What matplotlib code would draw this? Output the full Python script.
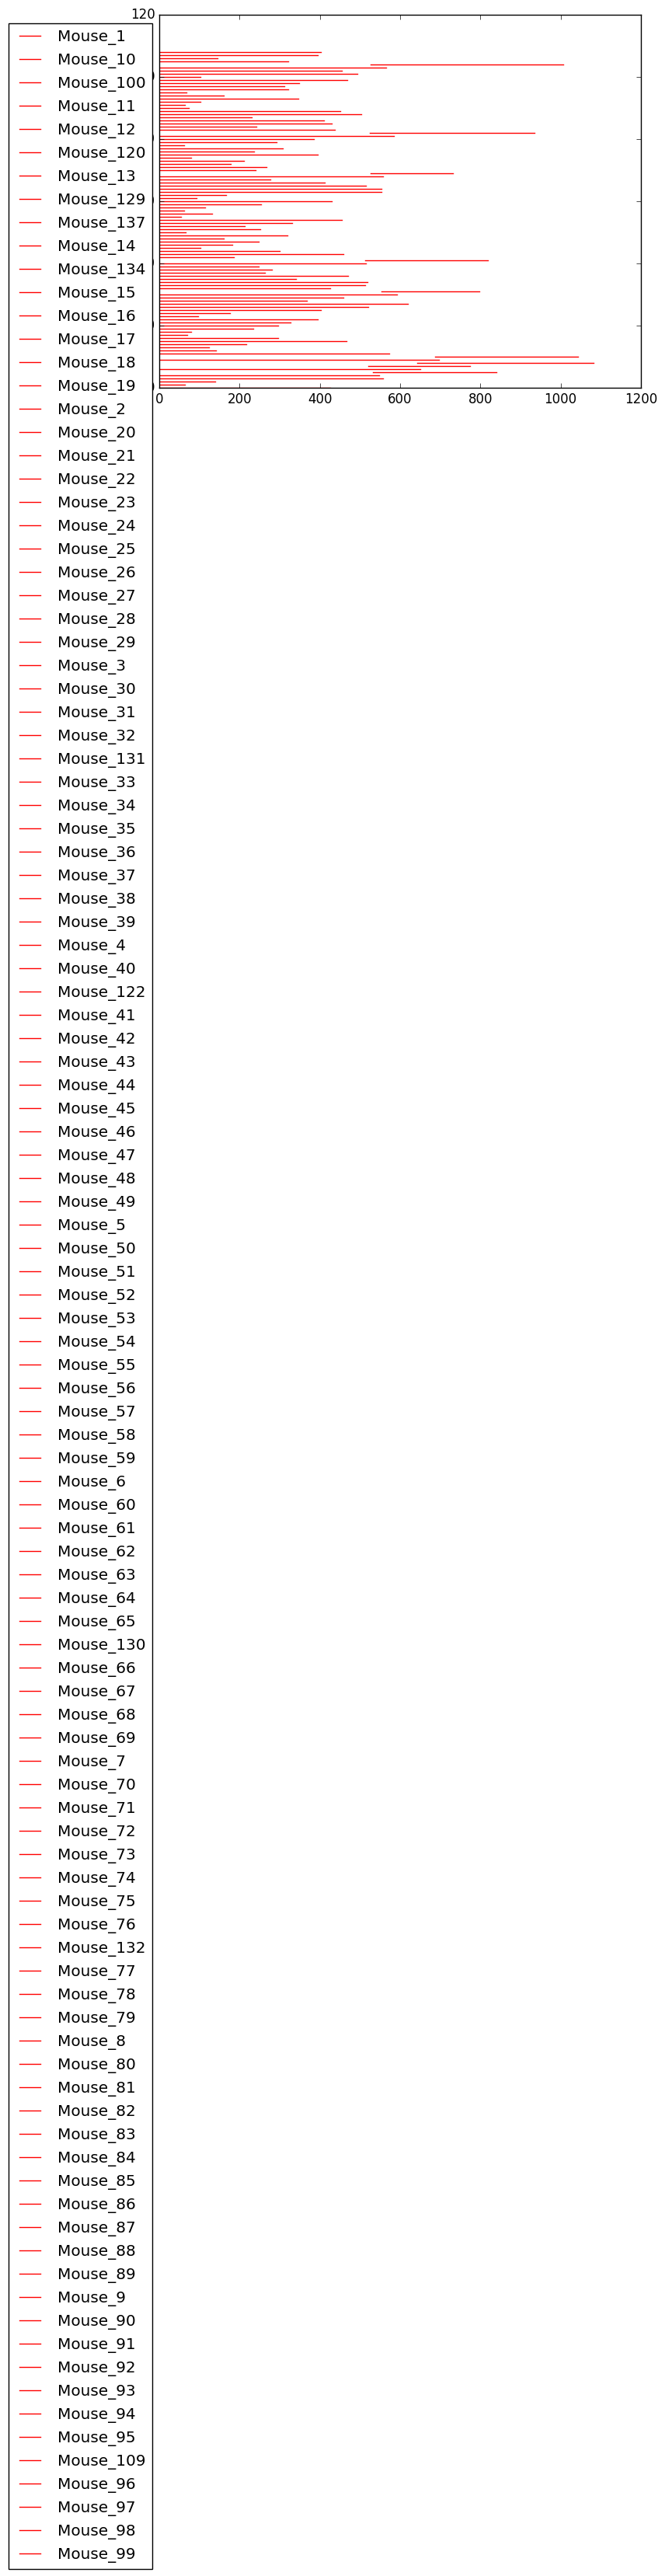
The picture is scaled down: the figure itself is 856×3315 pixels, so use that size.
import matplotlib
matplotlib.use('Agg')
import matplotlib.pyplot as plt

# mouse names, in the order they were plotted (y = 0, 1, 2, ...)
mouseNames = ['Mouse_1', 'Mouse_10', 'Mouse_100', 'Mouse_11', 'Mouse_12', 'Mouse_120', 'Mouse_13',
              'Mouse_129', 'Mouse_137', 'Mouse_14', 'Mouse_134', 'Mouse_15', 'Mouse_16', 'Mouse_17',
              'Mouse_18', 'Mouse_19', 'Mouse_2', 'Mouse_20', 'Mouse_21', 'Mouse_22', 'Mouse_23',
              'Mouse_24', 'Mouse_25', 'Mouse_26', 'Mouse_27', 'Mouse_28', 'Mouse_29', 'Mouse_3',
              'Mouse_30', 'Mouse_31', 'Mouse_32', 'Mouse_131', 'Mouse_33', 'Mouse_34', 'Mouse_35',
              'Mouse_36', 'Mouse_37', 'Mouse_38', 'Mouse_39', 'Mouse_4', 'Mouse_40', 'Mouse_122',
              'Mouse_41', 'Mouse_42', 'Mouse_43', 'Mouse_44', 'Mouse_45', 'Mouse_46', 'Mouse_47',
              'Mouse_48', 'Mouse_49', 'Mouse_5', 'Mouse_50', 'Mouse_51', 'Mouse_52', 'Mouse_53',
              'Mouse_54', 'Mouse_55', 'Mouse_56', 'Mouse_57', 'Mouse_58', 'Mouse_59', 'Mouse_6',
              'Mouse_60', 'Mouse_61', 'Mouse_62', 'Mouse_63', 'Mouse_64', 'Mouse_65', 'Mouse_130',
              'Mouse_66', 'Mouse_67', 'Mouse_68', 'Mouse_69', 'Mouse_7', 'Mouse_70', 'Mouse_71',
              'Mouse_72', 'Mouse_73', 'Mouse_74', 'Mouse_75', 'Mouse_76', 'Mouse_132', 'Mouse_77',
              'Mouse_78', 'Mouse_79', 'Mouse_8', 'Mouse_80', 'Mouse_81', 'Mouse_82', 'Mouse_83',
              'Mouse_84', 'Mouse_85', 'Mouse_86', 'Mouse_87', 'Mouse_88', 'Mouse_89', 'Mouse_9',
              'Mouse_90', 'Mouse_91', 'Mouse_92', 'Mouse_93', 'Mouse_94', 'Mouse_95', 'Mouse_109',
              'Mouse_96', 'Mouse_97', 'Mouse_98', 'Mouse_99']

# start / end of each mouse's segment
startList = [0, 0, 0, 0, 0, 533, 0, 520, 642, 0,
             687, 0, 0, 0, 0, 0, 0, 0, 0, 0,
             0, 0, 0, 0, 0, 0, 0, 0, 0, 0,
             0, 553, 0, 0, 0, 0, 0, 0, 0, 0,
             0, 512, 0, 0, 0, 0, 0, 0, 0, 0,
             0, 0, 0, 0, 0, 0, 0, 0, 0, 0,
             0, 0, 0, 0, 0, 0, 0, 0, 0, 527,
             0, 0, 0, 0, 0, 0, 0, 0, 0, 0,
             0, 0, 525, 0, 0, 0, 0, 0, 0, 0,
             0, 0, 0, 0, 0, 0, 0, 0, 0, 0,
             0, 0, 0, 0, 527, 0, 0, 0, 0]
endList = [425, 63, 139, 558, 547, 840, 650, 775, 1082, 696,
           1043, 572, 141, 124, 217, 467, 296, 70, 79, 234,
           296, 327, 394, 96, 176, 402, 521, 619, 368, 458,
           593, 797, 426, 512, 518, 341, 471, 264, 281, 248,
           514, 818, 186, 459, 300, 102, 182, 248, 161, 320,
           66, 251, 213, 330, 455, 54, 131, 62, 114, 254,
           429, 93, 166, 554, 553, 514, 413, 277, 557, 731,
           240, 267, 178, 211, 79, 395, 236, 308, 62, 292,
           386, 584, 935, 438, 242, 429, 411, 230, 504, 450,
           73, 63, 102, 347, 161, 67, 322, 312, 349, 469,
           102, 493, 455, 566, 1007, 322, 145, 394, 403]


def main():
    plt.style.use('classic')
    W, H = 856, 3315
    fig = plt.figure(figsize=(W / 100.0, H / 100.0), dpi=100)
    fig.patch.set_facecolor('white')
    ax = fig.add_axes([205.0 / W, 1 - 499.0 / H, 620.0 / W, 480.0 / H])

    for i in range(len(mouseNames)):
        ax.plot([startList[i], endList[i]], [i, i], 'r-', label=mouseNames[i])

    ax.set_xlim(0, 1200)
    ax.set_ylim(0, 120)

    ax.legend(loc='upper left', bbox_to_anchor=(10.5 / W, 1 - 29.5 / H),
              bbox_transform=fig.transFigure, borderaxespad=0)

    fig.savefig('out.png', dpi=100, facecolor='white')


if __name__ == '__main__':
    main()
